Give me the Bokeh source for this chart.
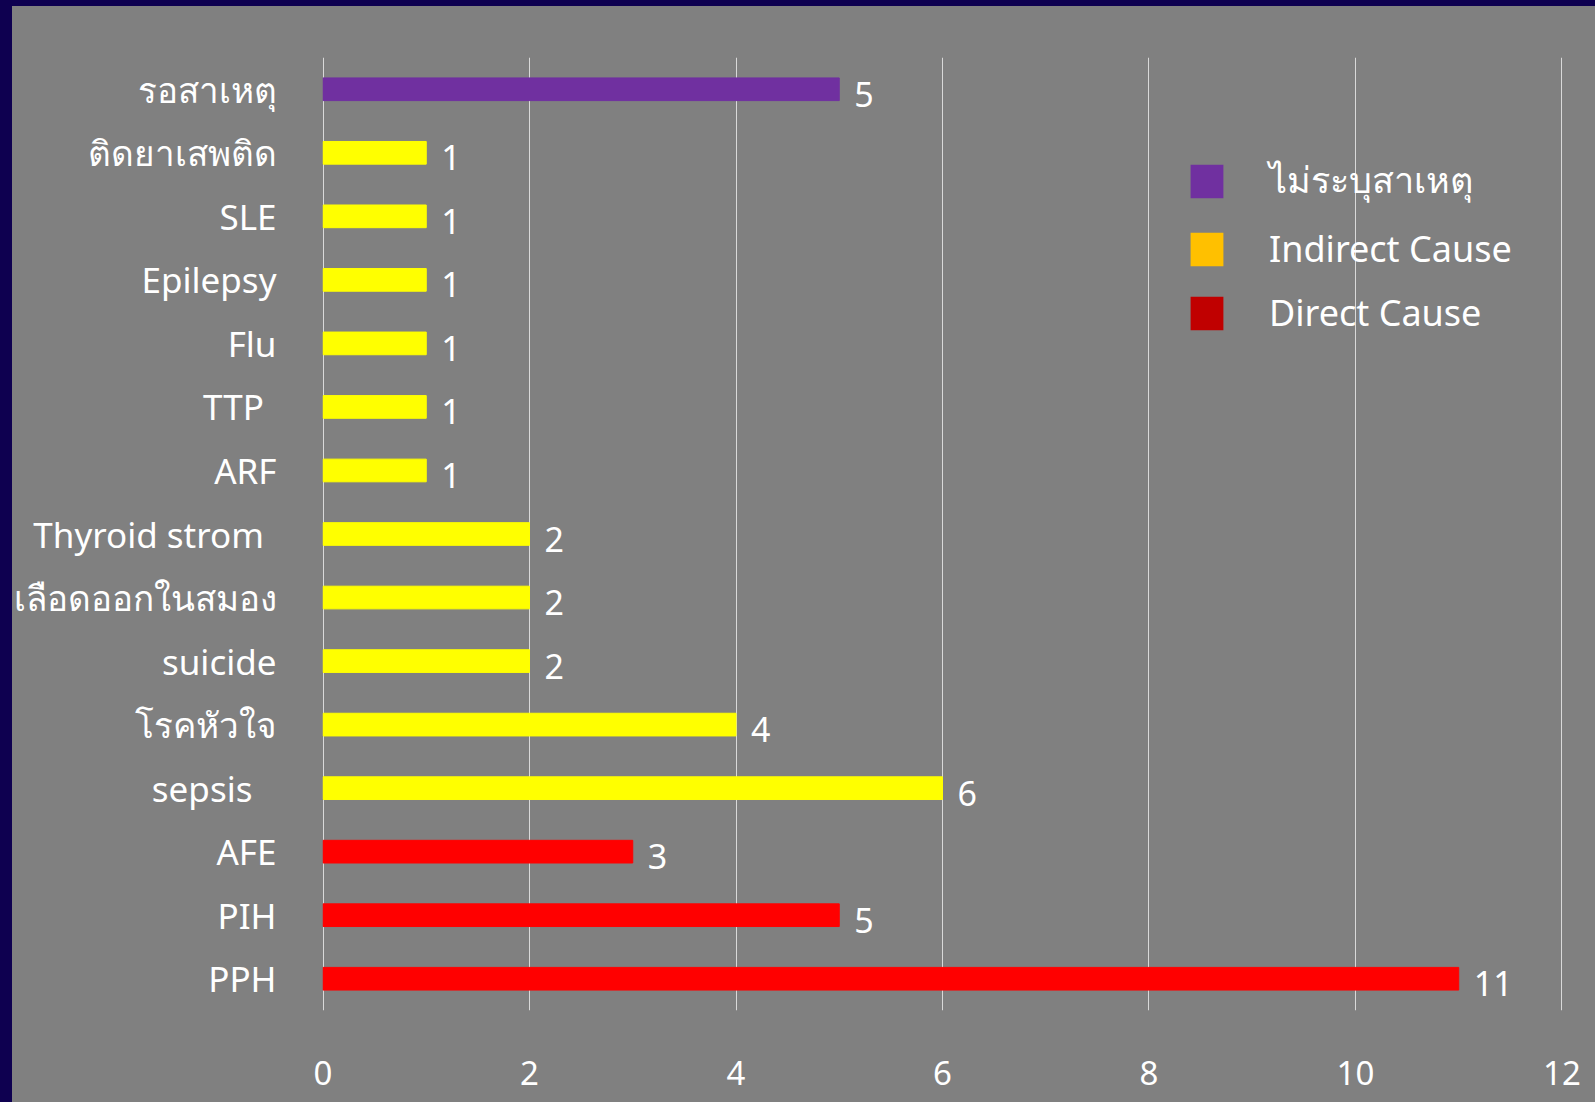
from bokeh.plotting import figure
from bokeh.models import (ColumnDataSource, FactorRange, Range1d, Legend, LegendItem,
                          FixedTicker, CustomJSTickFormatter)
from bokeh.core.properties import value
from bokeh.embed import file_html
from bokeh.resources import INLINE

# Data (bottom to top)
categories = ["PPH", "PIH", "AFE", "sepsis", "โรคหัวใจ", "suicide", "เลือดออกในสมอง",
              "Thyroid strom", "ARF", "TTP", "Flu", "Epilepsy", "SLE", "ติดยาเสพติด", "รอสาเหตุ"]
counts = [11, 5, 3, 6, 4, 2, 2, 2, 1, 1, 1, 1, 1, 1, 5]
groups = ["Direct", "Direct", "Direct", "Indirect", "Indirect", "Indirect", "Indirect",
          "Indirect", "Indirect", "Indirect", "Indirect", "Indirect", "Indirect", "Indirect", "Unknown"]
bar_colors = {"Direct": "#FF0000", "Indirect": "#FFFF00", "Unknown": "#7030A0"}
legend_labels = ["ไม่ระบุสาเหตุ", "Indirect Cause", "Direct Cause"]
legend_colors = ["#7030A0", "#FFC000", "#C00000"]
x_ticks = [0, 2, 4, 6, 8, 10, 12]

FONT = "Noto Sans"
BG = "#808080"
NAVY = "#0E0050"

src = ColumnDataSource(dict(
    cat=categories,
    val=counts,
    color=[bar_colors[g] for g in groups],
    lbl=[str(v) for v in counts],
))

p = figure(width=1595, height=1102, y_range=FactorRange(*categories),
           x_range=Range1d(-0.005, 12.005),
           output_backend="svg", toolbar_location=None,
           min_border_left=322, min_border_right=33, min_border_top=57, min_border_bottom=92)
p.styles = {"background-color": BG, "box-shadow": f"inset 12px 6px 0 0 {NAVY}"}
p.background_fill_color = BG
p.border_fill_alpha = 0
p.outline_line_color = None

p.hbar(y="cat", right="val", left=0, height=0.357, color="color", source=src)
p.text(x="val", y="cat", text="lbl", source=src, x_offset=15, y_offset=5,
       text_color="white", text_font=value(FONT), text_font_size="34px",
       text_baseline="middle", text_align="left")

# legend (placeholder renderers of zero size carry the legend colours)
items = []
for lab, col in zip(legend_labels, legend_colors):
    r = p.hbar(y=[categories[0]], left=[0], right=[0], height=0, fill_color=col, line_alpha=0)
    items.append(LegendItem(label=lab, renderers=[r]))
leg = Legend(items=items, location=(864, 673), glyph_width=41, glyph_height=42,
             label_height=34, label_standoff=42, spacing=15, padding=0, margin=0,
             background_fill_alpha=0, border_line_alpha=0,
             label_text_color="white", label_text_font=FONT, label_text_font_size="36px")
p.add_layout(leg, "center")

p.xgrid.grid_line_color = "#D9D9D9"
p.xgrid.grid_line_width = 1
p.xgrid.ticker = FixedTicker(ticks=x_ticks)
p.ygrid.grid_line_color = None

p.xaxis.ticker = FixedTicker(ticks=x_ticks)
for ax in (p.xaxis, p.yaxis):
    ax.axis_line_color = None
    ax.major_tick_line_color = None
    ax.minor_tick_line_color = None
    ax.major_label_text_color = "white"
    ax.major_label_text_font = FONT
p.xaxis.major_label_text_font_size = "33px"
p.xaxis.major_label_standoff = 44
p.yaxis.major_label_text_font_size = "35px"
p.yaxis.major_label_standoff = 40
p.yaxis.formatter = CustomJSTickFormatter(
    args=dict(pad={"TTP": "\u00a0\u200a\u200b", "Thyroid strom": "\u00a0\u200a\u200b",
                   "sepsis": "\u00a0\u00a0\u2006\u200b"}),
    code="return tick + (pad[tick] || '');")

open("out.html", "w").write(file_html(p, INLINE))
